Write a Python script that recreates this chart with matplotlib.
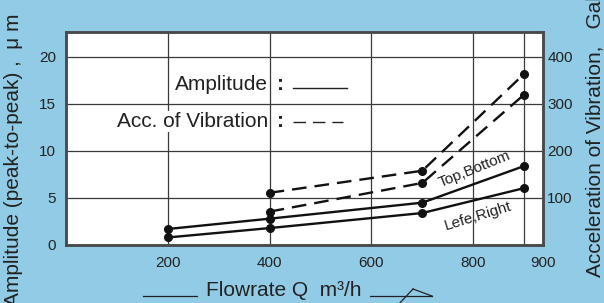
import matplotlib
matplotlib.use("Agg")
import matplotlib.pyplot as plt
from matplotlib.lines import Line2D
from matplotlib.transforms import ScaledTranslation

plt.rcParams['font.family'] = ['Liberation Sans', 'DejaVu Sans']

# ---- data ----
flow_amp = [200, 400, 700, 900]
amp_top_bottom = [1.7, 2.8, 4.5, 8.4]      # µm
amp_left_right = [0.8, 1.8, 3.4, 6.05]     # µm
flow_acc = [400, 700, 900]
acc_upper = [111, 158, 364]                # Gal
acc_lower = [71, 132, 320]                 # Gal

x_ticks = [200, 400, 600, 800, 900]
x_tick_labels = ['200', '400', '600', '800', '900']
y_ticks = [0, 5, 10, 15, 20]
y2_ticks = [100, 200, 300, 400]

BG = '#92CBE5'
TXT = '#222222'
fig = plt.figure(figsize=(6.04, 3.03), dpi=100, facecolor=BG)
ax = fig.add_axes([66/604, 1-245/303, 477/604, 213/303])
ax.set_facecolor('white')
ax.set_xlim(0, 937)
ax.set_ylim(0, 22.65)
ax2 = ax.twinx()
ax2.set_ylim(0, 22.65*20)

# grid
ax.set_xticks(x_ticks)
ax.set_xticklabels(x_tick_labels)
ax.set_yticks(y_ticks)
ax.grid(True, color='#3a3a3a', linewidth=0.9)
ax.set_axisbelow(True)
ax.tick_params(axis='both', length=0, labelsize=11, colors=TXT)
ax.tick_params(axis='y', pad=7)
ax.tick_params(axis='x', pad=8)
ax2.set_yticks(y2_ticks)
ax2.tick_params(axis='y', length=0, labelsize=11, colors=TXT, pad=3)

# shift "900" label to the right spine (as drawn in the original)
lbl = ax.get_xticklabels()[-1]
lbl.set_transform(lbl.get_transform() + ScaledTranslation(19/100, 0, fig.dpi_scale_trans))

for a in (ax, ax2):
    for s in a.spines.values():
        s.set_color('#4a4a4a')
        s.set_linewidth(1.8)

lw = 1.7
ms = 5.5
dash = (0, (6.2, 3.4))
ax.plot(flow_amp, amp_top_bottom, color='#111111', lw=lw, marker='o', ms=ms, zorder=5)
ax.plot(flow_amp, amp_left_right, color='#111111', lw=lw, marker='o', ms=ms, zorder=5)
ax2.plot(flow_acc, acc_upper, color='#111111', lw=lw, marker='o', ms=ms,
         linestyle=dash, zorder=5)
ax2.plot(flow_acc, acc_lower, color='#111111', lw=lw, marker='o', ms=ms,
         linestyle=dash, zorder=5)

# curve labels
ax.text(0.856, 0.355, 'Top,Bottom', transform=ax.transAxes, rotation=22, fontsize=11,
        ha='center', va='center', color=TXT, zorder=6)
ax.text(0.864, 0.137, 'Lefe,Right', transform=ax.transAxes, rotation=17, fontsize=11,
        ha='center', va='center', color=TXT, zorder=6)

# in-plot legend
bb = dict(facecolor='white', edgecolor='none', pad=0.5)
ax.text(0.4235, 0.752, 'Amplitude', transform=ax.transAxes, ha='right', va='center',
        fontsize=15, color=TXT, bbox=bb, zorder=6)
ax.text(0.4235, 0.580, 'Acc. of Vibration', transform=ax.transAxes, ha='right', va='center',
        fontsize=15, color=TXT, bbox=bb, zorder=6)
ax.text(0.449, 0.752, ':', transform=ax.transAxes, ha='center', va='center',
        fontsize=15, fontweight='bold', color=TXT, zorder=6)
ax.text(0.449, 0.580, ':', transform=ax.transAxes, ha='center', va='center',
        fontsize=15, fontweight='bold', color=TXT, zorder=6)
ax.add_line(Line2D([0.476, 0.589], [0.738, 0.738], transform=ax.transAxes,
                   color=TXT, lw=1.0, zorder=6))
ax.add_line(Line2D([0.476, 0.58], [0.578, 0.578], transform=ax.transAxes,
                   color=TXT, lw=1.0, linestyle=(0, (9, 5)), zorder=6))

# axis labels
fig.text(14/604, 1-13/303, 'Amplitude (peak-to-peak) ,  μ m', rotation=90,
         ha='center', va='top', fontsize=15, color=TXT)
fig.text(595/604, 1-277/303, 'Acceleration of Vibration,   Gal', rotation=90,
         ha='center', va='bottom', fontsize=15, color=TXT)
fig.text(284/604, 1-291/303, 'Flowrate Q  m³/h', ha='center', va='center',
         fontsize=15, color=TXT)

# decorative lines / arrow around the x label
def fline(xs, ys):
    fig.add_artist(Line2D([x/604 for x in xs], [1-y/303 for y in ys],
                          transform=fig.transFigure, color=TXT, lw=0.9))
fline([143, 197], [296, 296])
fline([370, 432], [296, 296])
fline([432, 413], [296, 289])
fline([413, 397], [289, 306])

fig.savefig('out.png', dpi=100, facecolor=BG)
